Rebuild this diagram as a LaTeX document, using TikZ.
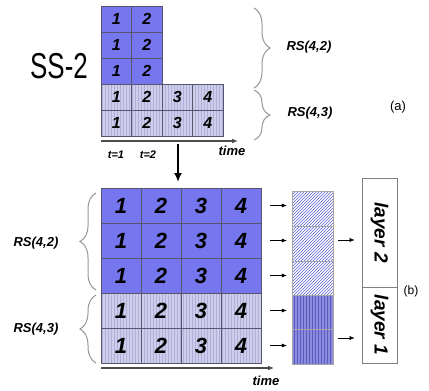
\documentclass[tikz,border=0pt]{standalone}
\usepackage{fontspec}
\usepackage{graphicx}
\setmainfont{Liberation Sans}
\usetikzlibrary{patterns,decorations.pathreplacing,arrows.meta}

\definecolor{cellblue}{RGB}{118,118,238}
\definecolor{celllight}{RGB}{206,206,236}
\definecolor{celllines}{RGB}{175,175,215}
\definecolor{gridline}{RGB}{85,85,110}
\definecolor{hatchblue}{RGB}{95,95,215}
\definecolor{stackblue}{RGB}{140,140,222}
\definecolor{stacklines}{RGB}{90,90,190}
\definecolor{bracegray}{RGB}{150,150,150}

\begin{document}
\begin{tikzpicture}[x=1pt,y=-1pt,>={Latex[length=5pt,width=4pt]},
  acell/.style={draw=gridline,line width=0.6pt,minimum width=30.5pt,minimum height=26pt,inner sep=0pt,font=\fontsize{16}{16}\selectfont\bfseries\itshape},
  bcell/.style={draw=gridline,line width=0.6pt,minimum width=40pt,minimum height=35pt,inner sep=0pt,font=\fontsize{22}{22}\selectfont\bfseries\itshape},
  upper/.style={fill=cellblue},
  lower/.style={preaction={fill=celllight},pattern=vertical lines,pattern color=celllines},
  stackcell/.style={draw=gray!70,line width=0.5pt,minimum width=41pt,minimum height=35pt,inner sep=0pt},
  hatch/.style={preaction={fill=white},pattern=north east lines,pattern color=hatchblue},
  dense/.style={preaction={fill=stackblue},pattern=vertical lines,pattern color=stacklines},
  laybox/.style={draw=gray,line width=0.8pt,minimum width=35pt,inner sep=0pt,font=\fontsize{19}{19}\selectfont\bfseries\itshape},
  rsbrace/.style={decorate,decoration={brace,amplitude=16pt},draw=bracegray,line width=1pt},
  rslabel/.style={font=\fontsize{13}{13}\selectfont\bfseries\itshape},
  axis/.style={draw=gray!60!black,line width=1.5pt,-{Latex[length=6pt,width=5pt]}},
  smallarr/.style={draw,thin,->,shorten <=9pt,shorten >=5pt}]
\useasboundingbox (0,0) rectangle (429,391);

% (a) stream before splitting
\node[font=\fontsize{36}{36}\selectfont] (ss) at (59,66) {\scalebox{0.72}[1]{SS-2}};

\node[acell,upper] (11a) at (116.25,19) {1};
\node[acell,upper] (12a) at (146.75,19) {2};
\node[acell,upper] (21a) at (116.25,45) {1};
\node[acell,upper] (22a) at (146.75,45) {2};
\node[acell,upper] (31a) at (116.25,71) {1};
\node[acell,upper] (32a) at (146.75,71) {2};
\node[acell,lower] (41a) at (116.25,97) {1};
\node[acell,lower] (42a) at (146.75,97) {2};
\node[acell,lower] (43a) at (177.25,97) {3};
\node[acell,lower] (44a) at (207.75,97) {4};
\node[acell,lower] (51a) at (116.25,123) {1};
\node[acell,lower] (52a) at (146.75,123) {2};
\node[acell,lower] (53a) at (177.25,123) {3};
\node[acell,lower] (54a) at (207.75,123) {4};

\coordinate (ta0) at (101,141);
\coordinate (ta1) at (238,141);
\path[axis] (ta0) -- (ta1);
\node[rslabel,font=\fontsize{11}{11}\selectfont\bfseries\itshape] (t1) at (116,155) {t=1};
\node[rslabel,font=\fontsize{11}{11}\selectfont\bfseries\itshape] (t2) at (148,155) {t=2};
\node[rslabel] (timea) at (232,151) {time};

\draw[rsbrace] (254,8) -- (254,88);
\draw[rsbrace] (254,90) -- (254,140);
\node[rslabel] (rs2a) at (309,47) {RS(4,2)};
\node[rslabel] (rs3a) at (310,113) {RS(4,3)};
\node[font=\fontsize{13}{13}\selectfont] (pa) at (398,107) {(a)};

\coordinate (dtop) at (178,144);
\coordinate (dbot) at (178,182);
\path[draw,line width=1.8pt,-{Latex[length=9pt,width=8pt]}] (dtop) -- (dbot);

% (b) layered stream
\node[bcell,upper] (11b) at (121,205.5) {1};
\node[bcell,upper] (12b) at (161,205.5) {2};
\node[bcell,upper] (13b) at (201,205.5) {3};
\node[bcell,upper] (14b) at (241,205.5) {4};
\node[bcell,upper] (21b) at (121,240.5) {1};
\node[bcell,upper] (22b) at (161,240.5) {2};
\node[bcell,upper] (23b) at (201,240.5) {3};
\node[bcell,upper] (24b) at (241,240.5) {4};
\node[bcell,upper] (31b) at (121,275.5) {1};
\node[bcell,upper] (32b) at (161,275.5) {2};
\node[bcell,upper] (33b) at (201,275.5) {3};
\node[bcell,upper] (34b) at (241,275.5) {4};
\node[bcell,lower] (41b) at (121,310.5) {1};
\node[bcell,lower] (42b) at (161,310.5) {2};
\node[bcell,lower] (43b) at (201,310.5) {3};
\node[bcell,lower] (44b) at (241,310.5) {4};
\node[bcell,lower] (51b) at (121,345.5) {1};
\node[bcell,lower] (52b) at (161,345.5) {2};
\node[bcell,lower] (53b) at (201,345.5) {3};
\node[bcell,lower] (54b) at (241,345.5) {4};

\coordinate (tb0) at (101,368);
\coordinate (tb1) at (274,368);
\path[axis] (tb0) -- (tb1);
\node[rslabel] (timeb) at (266,381) {time};

\draw[rsbrace] (96,290) -- (96,193);
\draw[rsbrace] (96,363) -- (96,295);
\node[rslabel] (rs2b) at (36,243) {RS(4,2)};
\node[rslabel] (rs3b) at (36,329) {RS(4,3)};

\node[stackcell,hatch] (1s) at (312.5,209) {};
\node[stackcell,hatch] (2s) at (312.5,244) {};
\node[stackcell,hatch] (3s) at (312.5,278.5) {};
\node[stackcell,dense] (4s) at (312.5,312.5) {};
\node[stackcell,dense] (5s) at (312.5,347) {};

\path[smallarr] (14b.east) -- (14b.east -| 1s.west);
\path[smallarr] (24b.east) -- (24b.east -| 2s.west);
\path[smallarr] (34b.east) -- (34b.east -| 3s.west);
\path[smallarr] (44b.east) -- (44b.east -| 4s.west);
\path[smallarr] (54b.east) -- (54b.east -| 5s.west);

\node[laybox,minimum height=109pt] (2l) at (379.5,232.5) {\rotatebox{-90}{layer 2}};
\node[laybox,minimum height=76pt] (1l) at (379.5,325) {\rotatebox{-90}{layer 1}};

\coordinate (c2) at (333,240);
\coordinate (c1) at (333,338);
\path[smallarr,shorten <=5pt,shorten >=7pt] (c2) -- (c2 -| 2l.west);
\path[smallarr,shorten <=5pt,shorten >=7pt] (c1) -- (c1 -| 1l.west);
\node[font=\fontsize{12}{12}\selectfont] (pb) at (411,291) {(b)};
\end{tikzpicture}
\end{document}
